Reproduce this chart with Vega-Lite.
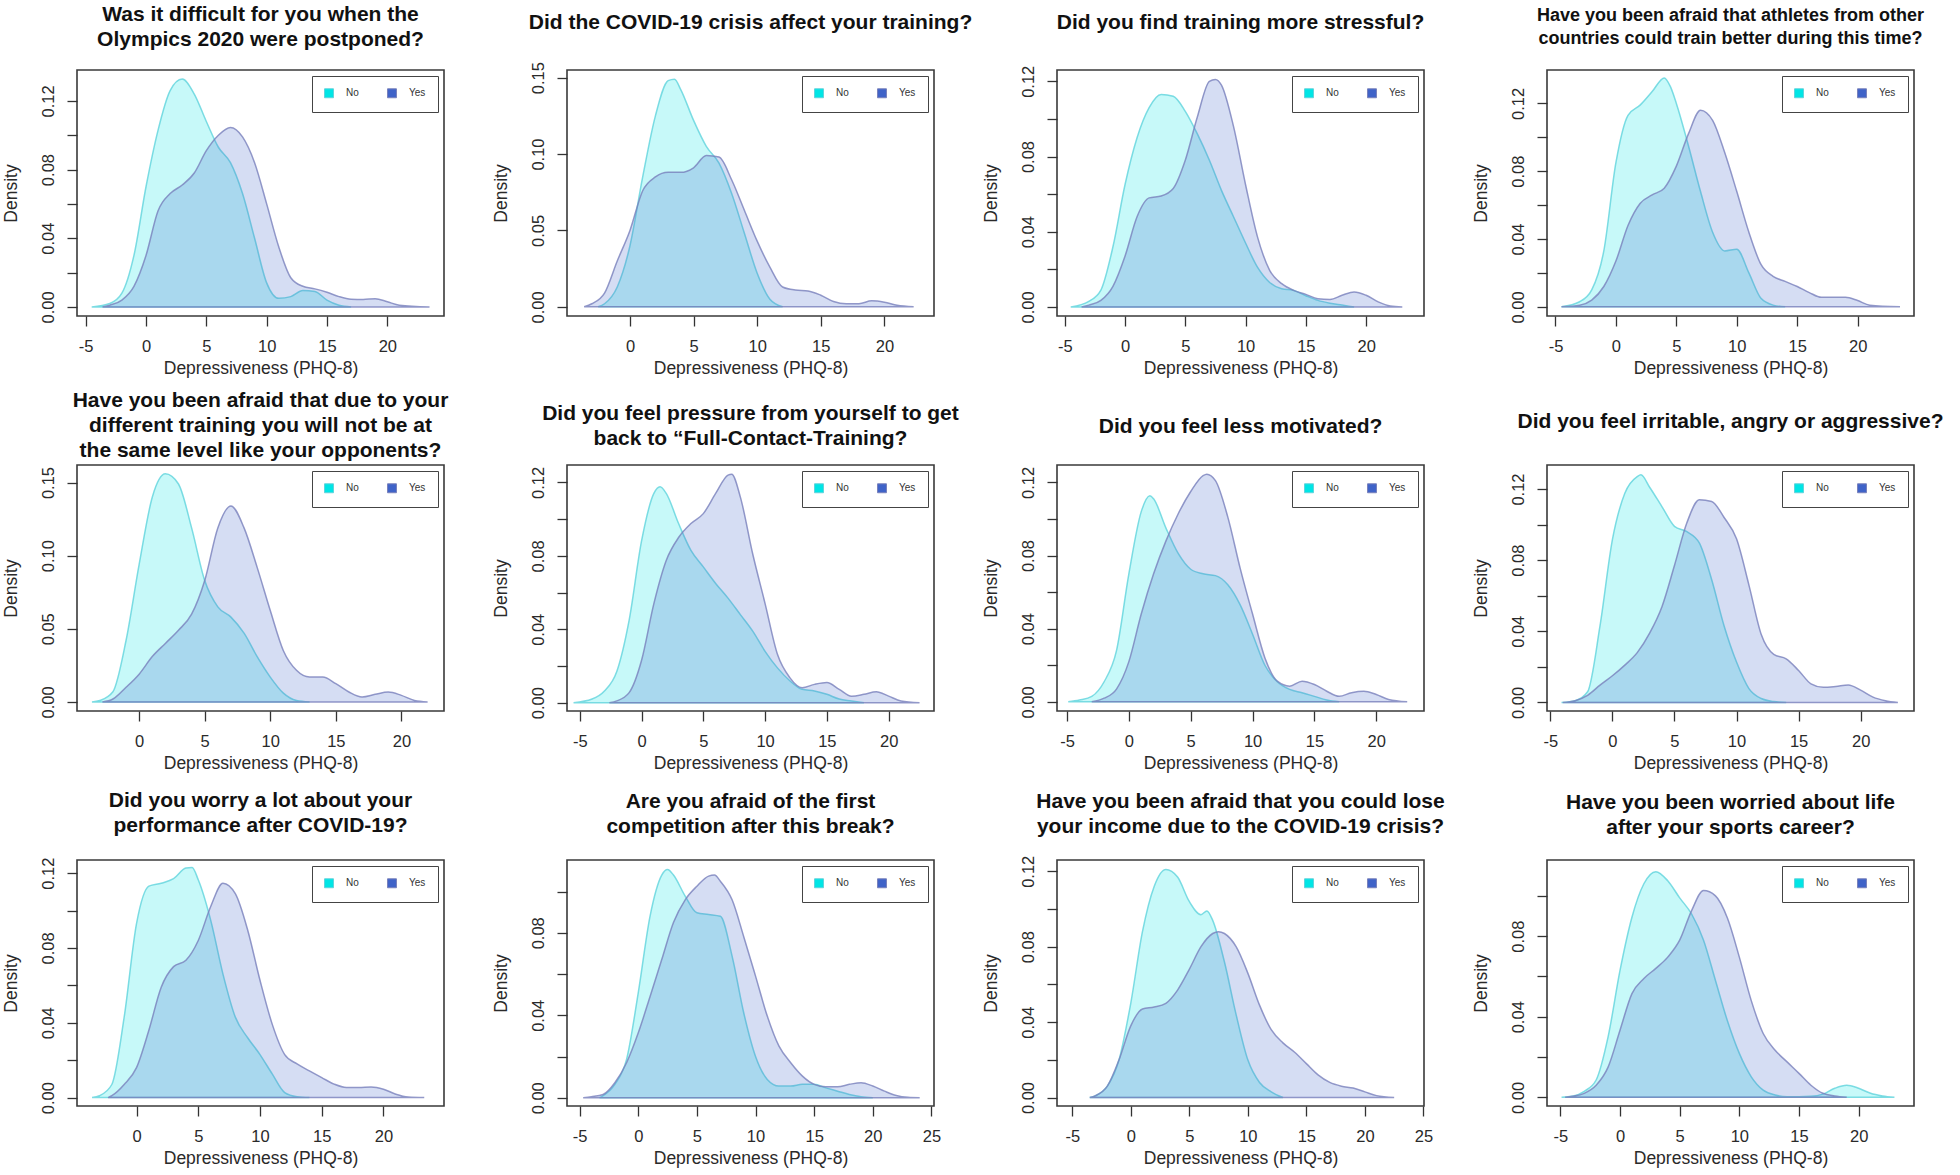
{
"$schema": "https://vega.github.io/schema/vega-lite/v6.json",
"background": "white",
"padding": {"left": 1, "top": 2, "right": 0, "bottom": 0},
"autosize": {"type": "pad"},
"data": {"values": [
{"q":1,"g":"No","x":-4.5,"d":0},{"q":1,"g":"No","x":-3,"d":0.002},{"q":1,"g":"No","x":-2,"d":0.008},{"q":1,"g":"No","x":-1,"d":0.03},{"q":1,"g":"No","x":0,"d":0.07},{"q":1,"g":"No","x":1,"d":0.103},{"q":1,"g":"No","x":2,"d":0.126},{"q":1,"g":"No","x":3,"d":0.1327},{"q":1,"g":"No","x":4,"d":0.124},{"q":1,"g":"No","x":5,"d":0.108},{"q":1,"g":"No","x":6,"d":0.093},{"q":1,"g":"No","x":7,"d":0.084},{"q":1,"g":"No","x":8,"d":0.066},{"q":1,"g":"No","x":9,"d":0.04},{"q":1,"g":"No","x":10,"d":0.014},{"q":1,"g":"No","x":11,"d":0.005},{"q":1,"g":"No","x":12,"d":0.006},{"q":1,"g":"No","x":13,"d":0.0095},{"q":1,"g":"No","x":14,"d":0.009},{"q":1,"g":"No","x":15,"d":0.004},{"q":1,"g":"No","x":16,"d":0.001},{"q":1,"g":"No","x":17,"d":0},
{"q":1,"g":"Yes","x":-3.6,"d":0},{"q":1,"g":"Yes","x":-3,"d":0.001},{"q":1,"g":"Yes","x":-2,"d":0.004},{"q":1,"g":"Yes","x":-1,"d":0.012},{"q":1,"g":"Yes","x":0,"d":0.03},{"q":1,"g":"Yes","x":1,"d":0.056},{"q":1,"g":"Yes","x":2,"d":0.066},{"q":1,"g":"Yes","x":3,"d":0.071},{"q":1,"g":"Yes","x":4,"d":0.078},{"q":1,"g":"Yes","x":5,"d":0.091},{"q":1,"g":"Yes","x":6,"d":0.1},{"q":1,"g":"Yes","x":7,"d":0.1045},{"q":1,"g":"Yes","x":8,"d":0.099},{"q":1,"g":"Yes","x":9,"d":0.084},{"q":1,"g":"Yes","x":10,"d":0.06},{"q":1,"g":"Yes","x":11,"d":0.035},{"q":1,"g":"Yes","x":12,"d":0.017},{"q":1,"g":"Yes","x":13,"d":0.012},{"q":1,"g":"Yes","x":14,"d":0.0105},{"q":1,"g":"Yes","x":15,"d":0.0085},{"q":1,"g":"Yes","x":16,"d":0.006},{"q":1,"g":"Yes","x":17,"d":0.0045},{"q":1,"g":"Yes","x":18,"d":0.0043},{"q":1,"g":"Yes","x":19,"d":0.0048},{"q":1,"g":"Yes","x":20,"d":0.003},{"q":1,"g":"Yes","x":21,"d":0.001},{"q":1,"g":"Yes","x":23.5,"d":0},
{"q":2,"g":"No","x":-2.5,"d":0},{"q":2,"g":"No","x":-2,"d":0.002},{"q":2,"g":"No","x":-1,"d":0.013},{"q":2,"g":"No","x":0,"d":0.04},{"q":2,"g":"No","x":1,"d":0.085},{"q":2,"g":"No","x":2,"d":0.125},{"q":2,"g":"No","x":3,"d":0.148},{"q":2,"g":"No","x":3.5,"d":0.149},{"q":2,"g":"No","x":4,"d":0.142},{"q":2,"g":"No","x":5,"d":0.122},{"q":2,"g":"No","x":6,"d":0.105},{"q":2,"g":"No","x":7,"d":0.094},{"q":2,"g":"No","x":8,"d":0.074},{"q":2,"g":"No","x":9,"d":0.048},{"q":2,"g":"No","x":10,"d":0.022},{"q":2,"g":"No","x":11,"d":0.005},{"q":2,"g":"No","x":12,"d":0},
{"q":2,"g":"Yes","x":-3.6,"d":0},{"q":2,"g":"Yes","x":-3,"d":0.002},{"q":2,"g":"Yes","x":-2,"d":0.009},{"q":2,"g":"Yes","x":-1,"d":0.03},{"q":2,"g":"Yes","x":0,"d":0.05},{"q":2,"g":"Yes","x":1,"d":0.076},{"q":2,"g":"Yes","x":2,"d":0.085},{"q":2,"g":"Yes","x":3,"d":0.088},{"q":2,"g":"Yes","x":4,"d":0.088},{"q":2,"g":"Yes","x":5,"d":0.091},{"q":2,"g":"Yes","x":6,"d":0.099},{"q":2,"g":"Yes","x":7,"d":0.098},{"q":2,"g":"Yes","x":8,"d":0.083},{"q":2,"g":"Yes","x":9,"d":0.063},{"q":2,"g":"Yes","x":10,"d":0.043},{"q":2,"g":"Yes","x":11,"d":0.026},{"q":2,"g":"Yes","x":12,"d":0.013},{"q":2,"g":"Yes","x":13,"d":0.011},{"q":2,"g":"Yes","x":14,"d":0.0104},{"q":2,"g":"Yes","x":15,"d":0.0076},{"q":2,"g":"Yes","x":16,"d":0.0035},{"q":2,"g":"Yes","x":17,"d":0.002},{"q":2,"g":"Yes","x":18,"d":0.002},{"q":2,"g":"Yes","x":19,"d":0.0039},{"q":2,"g":"Yes","x":20,"d":0.003},{"q":2,"g":"Yes","x":21,"d":0.001},{"q":2,"g":"Yes","x":22.3,"d":0},
{"q":3,"g":"No","x":-4.5,"d":0},{"q":3,"g":"No","x":-3,"d":0.003},{"q":3,"g":"No","x":-2,"d":0.009},{"q":3,"g":"No","x":-1,"d":0.032},{"q":3,"g":"No","x":0,"d":0.065},{"q":3,"g":"No","x":1,"d":0.09},{"q":3,"g":"No","x":2,"d":0.106},{"q":3,"g":"No","x":3,"d":0.113},{"q":3,"g":"No","x":4,"d":0.112},{"q":3,"g":"No","x":5,"d":0.104},{"q":3,"g":"No","x":6,"d":0.092},{"q":3,"g":"No","x":7,"d":0.078},{"q":3,"g":"No","x":8,"d":0.062},{"q":3,"g":"No","x":9,"d":0.048},{"q":3,"g":"No","x":10,"d":0.034},{"q":3,"g":"No","x":11,"d":0.021},{"q":3,"g":"No","x":12,"d":0.013},{"q":3,"g":"No","x":13,"d":0.0097},{"q":3,"g":"No","x":14,"d":0.0088},{"q":3,"g":"No","x":15,"d":0.006},{"q":3,"g":"No","x":16,"d":0.0035},{"q":3,"g":"No","x":17,"d":0.002},{"q":3,"g":"No","x":18,"d":0.001},{"q":3,"g":"No","x":19,"d":0},
{"q":3,"g":"Yes","x":-3.6,"d":0},{"q":3,"g":"Yes","x":-3,"d":0.001},{"q":3,"g":"Yes","x":-2,"d":0.0035},{"q":3,"g":"Yes","x":-1,"d":0.011},{"q":3,"g":"Yes","x":0,"d":0.027},{"q":3,"g":"Yes","x":1,"d":0.048},{"q":3,"g":"Yes","x":2,"d":0.058},{"q":3,"g":"Yes","x":3,"d":0.059},{"q":3,"g":"Yes","x":4,"d":0.063},{"q":3,"g":"Yes","x":5,"d":0.078},{"q":3,"g":"Yes","x":6,"d":0.101},{"q":3,"g":"Yes","x":7,"d":0.12},{"q":3,"g":"Yes","x":7.5,"d":0.121},{"q":3,"g":"Yes","x":8,"d":0.118},{"q":3,"g":"Yes","x":9,"d":0.096},{"q":3,"g":"Yes","x":10,"d":0.065},{"q":3,"g":"Yes","x":11,"d":0.037},{"q":3,"g":"Yes","x":12,"d":0.0195},{"q":3,"g":"Yes","x":13,"d":0.0124},{"q":3,"g":"Yes","x":14,"d":0.0088},{"q":3,"g":"Yes","x":15,"d":0.0067},{"q":3,"g":"Yes","x":16,"d":0.0044},{"q":3,"g":"Yes","x":17,"d":0.004},{"q":3,"g":"Yes","x":18,"d":0.0062},{"q":3,"g":"Yes","x":19,"d":0.008},{"q":3,"g":"Yes","x":20,"d":0.0062},{"q":3,"g":"Yes","x":21,"d":0.0027},{"q":3,"g":"Yes","x":22,"d":0.0005},{"q":3,"g":"Yes","x":23,"d":0},
{"q":4,"g":"No","x":-4.5,"d":0},{"q":4,"g":"No","x":-3,"d":0.003},{"q":4,"g":"No","x":-2,"d":0.01},{"q":4,"g":"No","x":-1,"d":0.033},{"q":4,"g":"No","x":0,"d":0.085},{"q":4,"g":"No","x":1,"d":0.113},{"q":4,"g":"No","x":2,"d":0.119},{"q":4,"g":"No","x":3,"d":0.127},{"q":4,"g":"No","x":4,"d":0.135},{"q":4,"g":"No","x":4.5,"d":0.13},{"q":4,"g":"No","x":5,"d":0.12},{"q":4,"g":"No","x":6,"d":0.095},{"q":4,"g":"No","x":7,"d":0.068},{"q":4,"g":"No","x":8,"d":0.044},{"q":4,"g":"No","x":9,"d":0.033},{"q":4,"g":"No","x":10,"d":0.034},{"q":4,"g":"No","x":11,"d":0.02},{"q":4,"g":"No","x":12,"d":0.005},{"q":4,"g":"No","x":13,"d":0.001},{"q":4,"g":"No","x":14,"d":0},
{"q":4,"g":"Yes","x":-4.5,"d":0},{"q":4,"g":"Yes","x":-3,"d":0.001},{"q":4,"g":"Yes","x":-2,"d":0.004},{"q":4,"g":"Yes","x":-1,"d":0.012},{"q":4,"g":"Yes","x":0,"d":0.027},{"q":4,"g":"Yes","x":1,"d":0.048},{"q":4,"g":"Yes","x":2,"d":0.061},{"q":4,"g":"Yes","x":3,"d":0.066},{"q":4,"g":"Yes","x":4,"d":0.07},{"q":4,"g":"Yes","x":5,"d":0.083},{"q":4,"g":"Yes","x":6,"d":0.102},{"q":4,"g":"Yes","x":7,"d":0.116},{"q":4,"g":"Yes","x":8,"d":0.11},{"q":4,"g":"Yes","x":9,"d":0.091},{"q":4,"g":"Yes","x":10,"d":0.068},{"q":4,"g":"Yes","x":11,"d":0.044},{"q":4,"g":"Yes","x":12,"d":0.025},{"q":4,"g":"Yes","x":13,"d":0.018},{"q":4,"g":"Yes","x":14,"d":0.015},{"q":4,"g":"Yes","x":15,"d":0.012},{"q":4,"g":"Yes","x":16,"d":0.0084},{"q":4,"g":"Yes","x":17,"d":0.0056},{"q":4,"g":"Yes","x":18,"d":0.0056},{"q":4,"g":"Yes","x":19,"d":0.0056},{"q":4,"g":"Yes","x":20,"d":0.0037},{"q":4,"g":"Yes","x":21,"d":0.001},{"q":4,"g":"Yes","x":23.5,"d":0},
{"q":5,"g":"No","x":-3.6,"d":0},{"q":5,"g":"No","x":-3,"d":0.001},{"q":5,"g":"No","x":-2,"d":0.007},{"q":5,"g":"No","x":-1,"d":0.042},{"q":5,"g":"No","x":0,"d":0.094},{"q":5,"g":"No","x":1,"d":0.14},{"q":5,"g":"No","x":2,"d":0.156},{"q":5,"g":"No","x":3,"d":0.149},{"q":5,"g":"No","x":4,"d":0.119},{"q":5,"g":"No","x":5,"d":0.083},{"q":5,"g":"No","x":6,"d":0.065},{"q":5,"g":"No","x":7,"d":0.058},{"q":5,"g":"No","x":8,"d":0.047},{"q":5,"g":"No","x":9,"d":0.031},{"q":5,"g":"No","x":10,"d":0.017},{"q":5,"g":"No","x":11,"d":0.006},{"q":5,"g":"No","x":12,"d":0.001},{"q":5,"g":"No","x":13,"d":0},
{"q":5,"g":"Yes","x":-2.8,"d":0},{"q":5,"g":"Yes","x":-2,"d":0.002},{"q":5,"g":"Yes","x":-1,"d":0.01},{"q":5,"g":"Yes","x":0,"d":0.019},{"q":5,"g":"Yes","x":1,"d":0.031},{"q":5,"g":"Yes","x":2,"d":0.04},{"q":5,"g":"Yes","x":3,"d":0.049},{"q":5,"g":"Yes","x":4,"d":0.06},{"q":5,"g":"Yes","x":5,"d":0.083},{"q":5,"g":"Yes","x":6,"d":0.119},{"q":5,"g":"Yes","x":7,"d":0.134},{"q":5,"g":"Yes","x":8,"d":0.119},{"q":5,"g":"Yes","x":9,"d":0.092},{"q":5,"g":"Yes","x":10,"d":0.0625},{"q":5,"g":"Yes","x":11,"d":0.035},{"q":5,"g":"Yes","x":12,"d":0.0216},{"q":5,"g":"Yes","x":13,"d":0.017},{"q":5,"g":"Yes","x":14,"d":0.017},{"q":5,"g":"Yes","x":15,"d":0.0125},{"q":5,"g":"Yes","x":16,"d":0.0068},{"q":5,"g":"Yes","x":17,"d":0.0034},{"q":5,"g":"Yes","x":18,"d":0.0052},{"q":5,"g":"Yes","x":19,"d":0.0068},{"q":5,"g":"Yes","x":20,"d":0.0045},{"q":5,"g":"Yes","x":21,"d":0.001},{"q":5,"g":"Yes","x":22,"d":0},
{"q":6,"g":"No","x":-5.5,"d":0},{"q":6,"g":"No","x":-4,"d":0.002},{"q":6,"g":"No","x":-3,"d":0.0064},{"q":6,"g":"No","x":-2,"d":0.017},{"q":6,"g":"No","x":-1,"d":0.045},{"q":6,"g":"No","x":0,"d":0.088},{"q":6,"g":"No","x":1,"d":0.114},{"q":6,"g":"No","x":1.5,"d":0.1176},{"q":6,"g":"No","x":2,"d":0.114},{"q":6,"g":"No","x":3,"d":0.0976},{"q":6,"g":"No","x":4,"d":0.083},{"q":6,"g":"No","x":5,"d":0.074},{"q":6,"g":"No","x":6,"d":0.065},{"q":6,"g":"No","x":7,"d":0.057},{"q":6,"g":"No","x":8,"d":0.048},{"q":6,"g":"No","x":9,"d":0.039},{"q":6,"g":"No","x":10,"d":0.028},{"q":6,"g":"No","x":11,"d":0.019},{"q":6,"g":"No","x":12,"d":0.012},{"q":6,"g":"No","x":13,"d":0.0073},{"q":6,"g":"No","x":14,"d":0.0064},{"q":6,"g":"No","x":15,"d":0.0046},{"q":6,"g":"No","x":16,"d":0.002},{"q":6,"g":"No","x":17,"d":0.001},{"q":6,"g":"No","x":18,"d":0},
{"q":6,"g":"Yes","x":-2.6,"d":0},{"q":6,"g":"Yes","x":-2,"d":0.001},{"q":6,"g":"Yes","x":-1,"d":0.0055},{"q":6,"g":"Yes","x":0,"d":0.023},{"q":6,"g":"Yes","x":1,"d":0.054},{"q":6,"g":"Yes","x":2,"d":0.0775},{"q":6,"g":"Yes","x":3,"d":0.09},{"q":6,"g":"Yes","x":4,"d":0.0976},{"q":6,"g":"Yes","x":5,"d":0.103},{"q":6,"g":"Yes","x":6,"d":0.114},{"q":6,"g":"Yes","x":7,"d":0.124},{"q":6,"g":"Yes","x":7.3,"d":0.1245},{"q":6,"g":"Yes","x":8,"d":0.112},{"q":6,"g":"Yes","x":9,"d":0.081},{"q":6,"g":"Yes","x":10,"d":0.054},{"q":6,"g":"Yes","x":11,"d":0.0264},{"q":6,"g":"Yes","x":12,"d":0.0137},{"q":6,"g":"Yes","x":13,"d":0.0082},{"q":6,"g":"Yes","x":14,"d":0.01},{"q":6,"g":"Yes","x":15,"d":0.011},{"q":6,"g":"Yes","x":16,"d":0.0073},{"q":6,"g":"Yes","x":17,"d":0.0036},{"q":6,"g":"Yes","x":18,"d":0.0046},{"q":6,"g":"Yes","x":19,"d":0.006},{"q":6,"g":"Yes","x":20,"d":0.0036},{"q":6,"g":"Yes","x":21,"d":0.001},{"q":6,"g":"Yes","x":22.5,"d":0},
{"q":7,"g":"No","x":-4.9,"d":0},{"q":7,"g":"No","x":-4,"d":0.001},{"q":7,"g":"No","x":-3,"d":0.003},{"q":7,"g":"No","x":-2,"d":0.011},{"q":7,"g":"No","x":-1,"d":0.028},{"q":7,"g":"No","x":0,"d":0.07},{"q":7,"g":"No","x":1,"d":0.104},{"q":7,"g":"No","x":1.7,"d":0.1127},{"q":7,"g":"No","x":2,"d":0.111},{"q":7,"g":"No","x":3,"d":0.095},{"q":7,"g":"No","x":4,"d":0.081},{"q":7,"g":"No","x":5,"d":0.0725},{"q":7,"g":"No","x":6,"d":0.07},{"q":7,"g":"No","x":7,"d":0.069},{"q":7,"g":"No","x":8,"d":0.064},{"q":7,"g":"No","x":9,"d":0.053},{"q":7,"g":"No","x":10,"d":0.037},{"q":7,"g":"No","x":11,"d":0.02},{"q":7,"g":"No","x":12,"d":0.011},{"q":7,"g":"No","x":13,"d":0.0068},{"q":7,"g":"No","x":14,"d":0.005},{"q":7,"g":"No","x":15,"d":0.003},{"q":7,"g":"No","x":16,"d":0.001},{"q":7,"g":"No","x":17,"d":0},
{"q":7,"g":"Yes","x":-3,"d":0},{"q":7,"g":"Yes","x":-2,"d":0.002},{"q":7,"g":"Yes","x":-1,"d":0.007},{"q":7,"g":"Yes","x":0,"d":0.022},{"q":7,"g":"Yes","x":1,"d":0.048},{"q":7,"g":"Yes","x":2,"d":0.07},{"q":7,"g":"Yes","x":3,"d":0.088},{"q":7,"g":"Yes","x":4,"d":0.103},{"q":7,"g":"Yes","x":5,"d":0.115},{"q":7,"g":"Yes","x":6,"d":0.1237},{"q":7,"g":"Yes","x":6.3,"d":0.1245},{"q":7,"g":"Yes","x":7,"d":0.121},{"q":7,"g":"Yes","x":8,"d":0.101},{"q":7,"g":"Yes","x":9,"d":0.073},{"q":7,"g":"Yes","x":10,"d":0.048},{"q":7,"g":"Yes","x":11,"d":0.024},{"q":7,"g":"Yes","x":12,"d":0.0113},{"q":7,"g":"Yes","x":13,"d":0.0086},{"q":7,"g":"Yes","x":14,"d":0.0113},{"q":7,"g":"Yes","x":15,"d":0.0095},{"q":7,"g":"Yes","x":16,"d":0.0058},{"q":7,"g":"Yes","x":17,"d":0.003},{"q":7,"g":"Yes","x":18,"d":0.005},{"q":7,"g":"Yes","x":19,"d":0.0058},{"q":7,"g":"Yes","x":20,"d":0.004},{"q":7,"g":"Yes","x":21,"d":0.0013},{"q":7,"g":"Yes","x":22.5,"d":0},
{"q":8,"g":"No","x":-4.1,"d":0},{"q":8,"g":"No","x":-3,"d":0.001},{"q":8,"g":"No","x":-2,"d":0.006},{"q":8,"g":"No","x":-1,"d":0.043},{"q":8,"g":"No","x":0,"d":0.0915},{"q":8,"g":"No","x":1,"d":0.1176},{"q":8,"g":"No","x":2,"d":0.127},{"q":8,"g":"No","x":2.3,"d":0.128},{"q":8,"g":"No","x":3,"d":0.121},{"q":8,"g":"No","x":4,"d":0.11},{"q":8,"g":"No","x":5,"d":0.099},{"q":8,"g":"No","x":6,"d":0.096},{"q":8,"g":"No","x":7,"d":0.0897},{"q":8,"g":"No","x":8,"d":0.069},{"q":8,"g":"No","x":9,"d":0.043},{"q":8,"g":"No","x":10,"d":0.0227},{"q":8,"g":"No","x":11,"d":0.0078},{"q":8,"g":"No","x":12,"d":0.0022},{"q":8,"g":"No","x":13,"d":0.0005},{"q":8,"g":"No","x":14,"d":0},
{"q":8,"g":"Yes","x":-4,"d":0},{"q":8,"g":"Yes","x":-3,"d":0.001},{"q":8,"g":"Yes","x":-2,"d":0.004},{"q":8,"g":"Yes","x":-1,"d":0.0097},{"q":8,"g":"Yes","x":0,"d":0.015},{"q":8,"g":"Yes","x":1,"d":0.021},{"q":8,"g":"Yes","x":2,"d":0.028},{"q":8,"g":"Yes","x":3,"d":0.039},{"q":8,"g":"Yes","x":4,"d":0.054},{"q":8,"g":"Yes","x":5,"d":0.077},{"q":8,"g":"Yes","x":6,"d":0.101},{"q":8,"g":"Yes","x":7,"d":0.114},{"q":8,"g":"Yes","x":8,"d":0.113},{"q":8,"g":"Yes","x":9,"d":0.104},{"q":8,"g":"Yes","x":10,"d":0.092},{"q":8,"g":"Yes","x":11,"d":0.066},{"q":8,"g":"Yes","x":12,"d":0.038},{"q":8,"g":"Yes","x":13,"d":0.027},{"q":8,"g":"Yes","x":14,"d":0.0245},{"q":8,"g":"Yes","x":15,"d":0.018},{"q":8,"g":"Yes","x":16,"d":0.0105},{"q":8,"g":"Yes","x":17,"d":0.0085},{"q":8,"g":"Yes","x":18,"d":0.009},{"q":8,"g":"Yes","x":19,"d":0.0098},{"q":8,"g":"Yes","x":20,"d":0.0069},{"q":8,"g":"Yes","x":21,"d":0.003},{"q":8,"g":"Yes","x":22,"d":0.001},{"q":8,"g":"Yes","x":23,"d":0},
{"q":9,"g":"No","x":-3.6,"d":0},{"q":9,"g":"No","x":-3,"d":0.001},{"q":9,"g":"No","x":-2,"d":0.007},{"q":9,"g":"No","x":-1,"d":0.043},{"q":9,"g":"No","x":0,"d":0.093},{"q":9,"g":"No","x":1,"d":0.113},{"q":9,"g":"No","x":2,"d":0.1146},{"q":9,"g":"No","x":3,"d":0.117},{"q":9,"g":"No","x":4,"d":0.1227},{"q":9,"g":"No","x":4.5,"d":0.123},{"q":9,"g":"No","x":5,"d":0.1164},{"q":9,"g":"No","x":6,"d":0.095},{"q":9,"g":"No","x":7,"d":0.066},{"q":9,"g":"No","x":8,"d":0.043},{"q":9,"g":"No","x":9,"d":0.032},{"q":9,"g":"No","x":10,"d":0.023},{"q":9,"g":"No","x":11,"d":0.0125},{"q":9,"g":"No","x":12,"d":0.0027},{"q":9,"g":"No","x":13,"d":0.0005},{"q":9,"g":"No","x":14,"d":0},
{"q":9,"g":"Yes","x":-2.3,"d":0},{"q":9,"g":"Yes","x":-2,"d":0.001},{"q":9,"g":"Yes","x":-1,"d":0.007},{"q":9,"g":"Yes","x":0,"d":0.016},{"q":9,"g":"Yes","x":1,"d":0.036},{"q":9,"g":"Yes","x":2,"d":0.059},{"q":9,"g":"Yes","x":3,"d":0.07},{"q":9,"g":"Yes","x":4,"d":0.0734},{"q":9,"g":"Yes","x":5,"d":0.084},{"q":9,"g":"Yes","x":6,"d":0.102},{"q":9,"g":"Yes","x":7,"d":0.1146},{"q":9,"g":"Yes","x":8,"d":0.109},{"q":9,"g":"Yes","x":9,"d":0.0896},{"q":9,"g":"Yes","x":10,"d":0.0627},{"q":9,"g":"Yes","x":11,"d":0.039},{"q":9,"g":"Yes","x":12,"d":0.023},{"q":9,"g":"Yes","x":13,"d":0.018},{"q":9,"g":"Yes","x":14,"d":0.0143},{"q":9,"g":"Yes","x":15,"d":0.0107},{"q":9,"g":"Yes","x":16,"d":0.0072},{"q":9,"g":"Yes","x":17,"d":0.0054},{"q":9,"g":"Yes","x":18,"d":0.0054},{"q":9,"g":"Yes","x":19,"d":0.0057},{"q":9,"g":"Yes","x":20,"d":0.0045},{"q":9,"g":"Yes","x":21,"d":0.0018},{"q":9,"g":"Yes","x":22,"d":0.0003},{"q":9,"g":"Yes","x":23.3,"d":0},
{"q":10,"g":"No","x":-3.3,"d":0},{"q":10,"g":"No","x":-3,"d":0.001},{"q":10,"g":"No","x":-2,"d":0.0065},{"q":10,"g":"No","x":-1,"d":0.0186},{"q":10,"g":"No","x":0,"d":0.051},{"q":10,"g":"No","x":1,"d":0.088},{"q":10,"g":"No","x":2,"d":0.108},{"q":10,"g":"No","x":2.5,"d":0.1107},{"q":10,"g":"No","x":3,"d":0.108},{"q":10,"g":"No","x":4,"d":0.0978},{"q":10,"g":"No","x":5,"d":0.0897},{"q":10,"g":"No","x":6,"d":0.0889},{"q":10,"g":"No","x":7,"d":0.088},{"q":10,"g":"No","x":8,"d":0.0687},{"q":10,"g":"No","x":9,"d":0.041},{"q":10,"g":"No","x":10,"d":0.02},{"q":10,"g":"No","x":11,"d":0.0089},{"q":10,"g":"No","x":12,"d":0.0057},{"q":10,"g":"No","x":13,"d":0.0057},{"q":10,"g":"No","x":14,"d":0.0065},{"q":10,"g":"No","x":15,"d":0.0065},{"q":10,"g":"No","x":16,"d":0.0048},{"q":10,"g":"No","x":17,"d":0.0032},{"q":10,"g":"No","x":18,"d":0.0016},{"q":10,"g":"No","x":19,"d":0.0005},{"q":10,"g":"No","x":20,"d":0},
{"q":10,"g":"Yes","x":-4.7,"d":0},{"q":10,"g":"Yes","x":-4,"d":0.0005},{"q":10,"g":"Yes","x":-3,"d":0.0016},{"q":10,"g":"Yes","x":-2,"d":0.0073},{"q":10,"g":"Yes","x":-1,"d":0.017},{"q":10,"g":"Yes","x":0,"d":0.0315},{"q":10,"g":"Yes","x":1,"d":0.049},{"q":10,"g":"Yes","x":2,"d":0.067},{"q":10,"g":"Yes","x":3,"d":0.085},{"q":10,"g":"Yes","x":4,"d":0.096},{"q":10,"g":"Yes","x":5,"d":0.1026},{"q":10,"g":"Yes","x":6,"d":0.1075},{"q":10,"g":"Yes","x":6.5,"d":0.108},{"q":10,"g":"Yes","x":7,"d":0.105},{"q":10,"g":"Yes","x":8,"d":0.096},{"q":10,"g":"Yes","x":9,"d":0.078},{"q":10,"g":"Yes","x":10,"d":0.059},{"q":10,"g":"Yes","x":11,"d":0.0396},{"q":10,"g":"Yes","x":12,"d":0.025},{"q":10,"g":"Yes","x":13,"d":0.017},{"q":10,"g":"Yes","x":14,"d":0.0105},{"q":10,"g":"Yes","x":15,"d":0.0065},{"q":10,"g":"Yes","x":16,"d":0.0053},{"q":10,"g":"Yes","x":17,"d":0.0053},{"q":10,"g":"Yes","x":18,"d":0.0065},{"q":10,"g":"Yes","x":19,"d":0.0073},{"q":10,"g":"Yes","x":20,"d":0.0057},{"q":10,"g":"Yes","x":21,"d":0.0032},{"q":10,"g":"Yes","x":22,"d":0.0011},{"q":10,"g":"Yes","x":23,"d":0.0002},{"q":10,"g":"Yes","x":24,"d":0},
{"q":11,"g":"No","x":-3.5,"d":0},{"q":11,"g":"No","x":-3,"d":0.001},{"q":11,"g":"No","x":-2,"d":0.006},{"q":11,"g":"No","x":-1,"d":0.02},{"q":11,"g":"No","x":0,"d":0.05},{"q":11,"g":"No","x":1,"d":0.088},{"q":11,"g":"No","x":2,"d":0.112},{"q":11,"g":"No","x":3,"d":0.121},{"q":11,"g":"No","x":4,"d":0.117},{"q":11,"g":"No","x":5,"d":0.104},{"q":11,"g":"No","x":6,"d":0.097},{"q":11,"g":"No","x":6.5,"d":0.099},{"q":11,"g":"No","x":7,"d":0.094},{"q":11,"g":"No","x":8,"d":0.072},{"q":11,"g":"No","x":9,"d":0.044},{"q":11,"g":"No","x":10,"d":0.02},{"q":11,"g":"No","x":11,"d":0.008},{"q":11,"g":"No","x":12,"d":0.003},{"q":11,"g":"No","x":13,"d":0},
{"q":11,"g":"Yes","x":-3.5,"d":0},{"q":11,"g":"Yes","x":-3,"d":0.001},{"q":11,"g":"Yes","x":-2,"d":0.006},{"q":11,"g":"Yes","x":-1,"d":0.02},{"q":11,"g":"Yes","x":0,"d":0.038},{"q":11,"g":"Yes","x":1,"d":0.047},{"q":11,"g":"Yes","x":2,"d":0.048},{"q":11,"g":"Yes","x":3,"d":0.05},{"q":11,"g":"Yes","x":4,"d":0.057},{"q":11,"g":"Yes","x":5,"d":0.068},{"q":11,"g":"Yes","x":6,"d":0.08},{"q":11,"g":"Yes","x":7,"d":0.087},{"q":11,"g":"Yes","x":7.5,"d":0.088},{"q":11,"g":"Yes","x":8,"d":0.087},{"q":11,"g":"Yes","x":9,"d":0.08},{"q":11,"g":"Yes","x":10,"d":0.066},{"q":11,"g":"Yes","x":11,"d":0.049},{"q":11,"g":"Yes","x":12,"d":0.036},{"q":11,"g":"Yes","x":13,"d":0.029},{"q":11,"g":"Yes","x":14,"d":0.024},{"q":11,"g":"Yes","x":15,"d":0.018},{"q":11,"g":"Yes","x":16,"d":0.012},{"q":11,"g":"Yes","x":17,"d":0.008},{"q":11,"g":"Yes","x":18,"d":0.006},{"q":11,"g":"Yes","x":19,"d":0.005},{"q":11,"g":"Yes","x":20,"d":0.003},{"q":11,"g":"Yes","x":21,"d":0.001},{"q":11,"g":"Yes","x":22.5,"d":0},
{"q":12,"g":"No","x":-4.9,"d":0},{"q":12,"g":"No","x":-4,"d":0.0005},{"q":12,"g":"No","x":-3,"d":0.003},{"q":12,"g":"No","x":-2,"d":0.0086},{"q":12,"g":"No","x":-1,"d":0.03},{"q":12,"g":"No","x":0,"d":0.063},{"q":12,"g":"No","x":1,"d":0.0894},{"q":12,"g":"No","x":2,"d":0.106},{"q":12,"g":"No","x":3,"d":0.112},{"q":12,"g":"No","x":4,"d":0.1075},{"q":12,"g":"No","x":5,"d":0.099},{"q":12,"g":"No","x":6,"d":0.091},{"q":12,"g":"No","x":7,"d":0.078},{"q":12,"g":"No","x":8,"d":0.058},{"q":12,"g":"No","x":9,"d":0.038},{"q":12,"g":"No","x":10,"d":0.0218},{"q":12,"g":"No","x":11,"d":0.0102},{"q":12,"g":"No","x":12,"d":0.0036},{"q":12,"g":"No","x":13,"d":0.0012},{"q":12,"g":"No","x":14,"d":0.0003},{"q":12,"g":"No","x":15,"d":0.0003},{"q":12,"g":"No","x":16,"d":0.0005},{"q":12,"g":"No","x":17,"d":0.0016},{"q":12,"g":"No","x":18,"d":0.0045},{"q":12,"g":"No","x":19,"d":0.006},{"q":12,"g":"No","x":20,"d":0.0045},{"q":12,"g":"No","x":21,"d":0.002},{"q":12,"g":"No","x":22,"d":0.0007},{"q":12,"g":"No","x":23,"d":0},
{"q":12,"g":"Yes","x":-4.6,"d":0},{"q":12,"g":"Yes","x":-4,"d":0.0005},{"q":12,"g":"Yes","x":-3,"d":0.002},{"q":12,"g":"Yes","x":-2,"d":0.006},{"q":12,"g":"Yes","x":-1,"d":0.015},{"q":12,"g":"Yes","x":0,"d":0.0333},{"q":12,"g":"Yes","x":1,"d":0.0515},{"q":12,"g":"Yes","x":2,"d":0.059},{"q":12,"g":"Yes","x":3,"d":0.064},{"q":12,"g":"Yes","x":4,"d":0.0696},{"q":12,"g":"Yes","x":5,"d":0.078},{"q":12,"g":"Yes","x":6,"d":0.0927},{"q":12,"g":"Yes","x":7,"d":0.1026},{"q":12,"g":"Yes","x":8,"d":0.1},{"q":12,"g":"Yes","x":9,"d":0.089},{"q":12,"g":"Yes","x":10,"d":0.0696},{"q":12,"g":"Yes","x":11,"d":0.048},{"q":12,"g":"Yes","x":12,"d":0.0317},{"q":12,"g":"Yes","x":13,"d":0.0234},{"q":12,"g":"Yes","x":14,"d":0.0176},{"q":12,"g":"Yes","x":15,"d":0.0119},{"q":12,"g":"Yes","x":16,"d":0.006},{"q":12,"g":"Yes","x":17,"d":0.002},{"q":12,"g":"Yes","x":18,"d":0.0007},{"q":12,"g":"Yes","x":19,"d":0}
]},
"columns": 4,
"spacing": {"row": 149, "column": 123},
"bounds": "flush",
"resolve": {"scale": {"x": "independent", "y": "independent", "fill": "independent", "stroke": "independent"}, "legend": {"fill": "independent", "stroke": "independent"}},
"concat": [
{"title": {"text": ["Was it difficult for you when the", "Olympics 2020 were postponed?"], "offset": 20.5},
 "width": 367, "height": 246, "transform": [{"filter": "datum.q == 1"}],
 "mark": {"type": "area", "interpolate": "monotone", "fillOpacity": 0.22, "strokeWidth": 1.5, "strokeOpacity": 0.8},
 "encoding": {
  "x": {"field": "x", "type": "quantitative", "scale": {"domain": [-5.72, 24.7], "nice": false, "zero": false}, "axis": {"values": [-5, 0, 5, 10, 15, 20], "labelExpr": "'' + datum.value", "title": "Depressiveness (PHQ-8)"}},
  "y": {"field": "d", "type": "quantitative", "stack": null, "scale": {"domain": [-0.0053, 0.138], "nice": false, "zero": false}, "axis": {"values": [0, 0.02, 0.04, 0.06, 0.08, 0.1, 0.12], "labelExpr": "abs(datum.value*25 - round(datum.value*25)) < 0.01 ? format(datum.value, '.2f') : ''", "title": "Density"}},
  "y2": {"datum": 0},
  "fill": {"field": "g", "type": "nominal", "scale": {"domain": ["No", "Yes"], "range": ["#00e5e5", "#3f63c8"]}, "legend": {"title": null, "encode": {"symbols": {"update": {"fillOpacity": {"value": 1}, "opacity": {"value": 1}, "stroke": {"value": "#333333"}, "strokeWidth": {"value": 1}}}}}},
  "stroke": {"field": "g", "type": "nominal", "scale": {"domain": ["No", "Yes"], "range": ["#5fd3dc", "#7880bb"]}, "legend": null}
 }},
{"title": {"text": "Did the COVID-19 crisis affect your training?", "offset": 29},
 "width": 367, "height": 246, "transform": [{"filter": "datum.q == 2"}],
 "mark": {"type": "area", "interpolate": "monotone", "fillOpacity": 0.22, "strokeWidth": 1.5, "strokeOpacity": 0.8},
 "encoding": {
  "x": {"field": "x", "type": "quantitative", "scale": {"domain": [-4.95, 23.9], "nice": false, "zero": false}, "axis": {"values": [0, 5, 10, 15, 20], "labelExpr": "'' + datum.value", "title": "Depressiveness (PHQ-8)"}},
  "y": {"field": "d", "type": "quantitative", "stack": null, "scale": {"domain": [-0.006, 0.155], "nice": false, "zero": false}, "axis": {"values": [0, 0.05, 0.1, 0.15], "format": ".2f", "title": "Density"}},
  "y2": {"datum": 0},
  "fill": {"field": "g", "type": "nominal", "scale": {"domain": ["No", "Yes"], "range": ["#00e5e5", "#3f63c8"]}, "legend": {"title": null, "encode": {"symbols": {"update": {"fillOpacity": {"value": 1}, "opacity": {"value": 1}, "stroke": {"value": "#333333"}, "strokeWidth": {"value": 1}}}}}},
  "stroke": {"field": "g", "type": "nominal", "scale": {"domain": ["No", "Yes"], "range": ["#5fd3dc", "#7880bb"]}, "legend": null}
 }},
{"title": {"text": "Did you find training more stressful?", "offset": 32},
 "width": 367, "height": 246, "transform": [{"filter": "datum.q == 3"}],
 "mark": {"type": "area", "interpolate": "monotone", "fillOpacity": 0.22, "strokeWidth": 1.5, "strokeOpacity": 0.8},
 "encoding": {
  "x": {"field": "x", "type": "quantitative", "scale": {"domain": [-5.64, 24.8], "nice": false, "zero": false}, "axis": {"values": [-5, 0, 5, 10, 15, 20], "labelExpr": "'' + datum.value", "title": "Depressiveness (PHQ-8)"}},
  "y": {"field": "d", "type": "quantitative", "stack": null, "scale": {"domain": [-0.0048, 0.126], "nice": false, "zero": false}, "axis": {"values": [0, 0.02, 0.04, 0.06, 0.08, 0.1, 0.12], "labelExpr": "abs(datum.value*25 - round(datum.value*25)) < 0.01 ? format(datum.value, '.2f') : ''", "title": "Density"}},
  "y2": {"datum": 0},
  "fill": {"field": "g", "type": "nominal", "scale": {"domain": ["No", "Yes"], "range": ["#00e5e5", "#3f63c8"]}, "legend": {"title": null, "encode": {"symbols": {"update": {"fillOpacity": {"value": 1}, "opacity": {"value": 1}, "stroke": {"value": "#333333"}, "strokeWidth": {"value": 1}}}}}},
  "stroke": {"field": "g", "type": "nominal", "scale": {"domain": ["No", "Yes"], "range": ["#5fd3dc", "#7880bb"]}, "legend": null}
 }},
{"title": {"text": ["Have you been afraid that athletes from other", "countries could train better during this time?"], "offset": 22.5, "fontSize": 18, "lineHeight": 23},
 "width": 367, "height": 246, "transform": [{"filter": "datum.q == 4"}],
 "mark": {"type": "area", "interpolate": "monotone", "fillOpacity": 0.22, "strokeWidth": 1.5, "strokeOpacity": 0.8},
 "encoding": {
  "x": {"field": "x", "type": "quantitative", "scale": {"domain": [-5.7, 24.66], "nice": false, "zero": false}, "axis": {"values": [-5, 0, 5, 10, 15, 20], "labelExpr": "'' + datum.value", "title": "Depressiveness (PHQ-8)"}},
  "y": {"field": "d", "type": "quantitative", "stack": null, "scale": {"domain": [-0.0054, 0.1397], "nice": false, "zero": false}, "axis": {"values": [0, 0.02, 0.04, 0.06, 0.08, 0.1, 0.12], "labelExpr": "abs(datum.value*25 - round(datum.value*25)) < 0.01 ? format(datum.value, '.2f') : ''", "title": "Density"}},
  "y2": {"datum": 0},
  "fill": {"field": "g", "type": "nominal", "scale": {"domain": ["No", "Yes"], "range": ["#00e5e5", "#3f63c8"]}, "legend": {"title": null, "encode": {"symbols": {"update": {"fillOpacity": {"value": 1}, "opacity": {"value": 1}, "stroke": {"value": "#333333"}, "strokeWidth": {"value": 1}}}}}},
  "stroke": {"field": "g", "type": "nominal", "scale": {"domain": ["No", "Yes"], "range": ["#5fd3dc", "#7880bb"]}, "legend": null}
 }},
{"title": {"text": ["Have you been afraid that due to your", "different training you will not be at", "the same level like your opponents?"], "offset": 4.5},
 "width": 367, "height": 246, "transform": [{"filter": "datum.q == 5"}],
 "mark": {"type": "area", "interpolate": "monotone", "fillOpacity": 0.22, "strokeWidth": 1.5, "strokeOpacity": 0.8},
 "encoding": {
  "x": {"field": "x", "type": "quantitative", "scale": {"domain": [-4.74, 23.25], "nice": false, "zero": false}, "axis": {"values": [0, 5, 10, 15, 20], "labelExpr": "'' + datum.value", "title": "Depressiveness (PHQ-8)"}},
  "y": {"field": "d", "type": "quantitative", "stack": null, "scale": {"domain": [-0.0062, 0.162], "nice": false, "zero": false}, "axis": {"values": [0, 0.05, 0.1, 0.15], "format": ".2f", "title": "Density"}},
  "y2": {"datum": 0},
  "fill": {"field": "g", "type": "nominal", "scale": {"domain": ["No", "Yes"], "range": ["#00e5e5", "#3f63c8"]}, "legend": {"title": null, "encode": {"symbols": {"update": {"fillOpacity": {"value": 1}, "opacity": {"value": 1}, "stroke": {"value": "#333333"}, "strokeWidth": {"value": 1}}}}}},
  "stroke": {"field": "g", "type": "nominal", "scale": {"domain": ["No", "Yes"], "range": ["#5fd3dc", "#7880bb"]}, "legend": null}
 }},
{"title": {"text": ["Did you feel pressure from yourself to get", "back to “Full-Contact-Training?"], "offset": 16.5},
 "width": 367, "height": 246, "transform": [{"filter": "datum.q == 6"}],
 "mark": {"type": "area", "interpolate": "monotone", "fillOpacity": 0.22, "strokeWidth": 1.5, "strokeOpacity": 0.8},
 "encoding": {
  "x": {"field": "x", "type": "quantitative", "scale": {"domain": [-6.03, 23.67], "nice": false, "zero": false}, "axis": {"values": [-5, 0, 5, 10, 15, 20], "labelExpr": "'' + datum.value", "title": "Depressiveness (PHQ-8)"}},
  "y": {"field": "d", "type": "quantitative", "stack": null, "scale": {"domain": [-0.0045, 0.1295], "nice": false, "zero": false}, "axis": {"values": [0, 0.02, 0.04, 0.06, 0.08, 0.1, 0.12], "labelExpr": "abs(datum.value*25 - round(datum.value*25)) < 0.01 ? format(datum.value, '.2f') : ''", "title": "Density"}},
  "y2": {"datum": 0},
  "fill": {"field": "g", "type": "nominal", "scale": {"domain": ["No", "Yes"], "range": ["#00e5e5", "#3f63c8"]}, "legend": {"title": null, "encode": {"symbols": {"update": {"fillOpacity": {"value": 1}, "opacity": {"value": 1}, "stroke": {"value": "#333333"}, "strokeWidth": {"value": 1}}}}}},
  "stroke": {"field": "g", "type": "nominal", "scale": {"domain": ["No", "Yes"], "range": ["#5fd3dc", "#7880bb"]}, "legend": null}
 }},
{"title": {"text": "Did you feel less motivated?", "offset": 28.5},
 "width": 367, "height": 246, "transform": [{"filter": "datum.q == 7"}],
 "mark": {"type": "area", "interpolate": "monotone", "fillOpacity": 0.22, "strokeWidth": 1.5, "strokeOpacity": 0.8},
 "encoding": {
  "x": {"field": "x", "type": "quantitative", "scale": {"domain": [-5.81, 23.86], "nice": false, "zero": false}, "axis": {"values": [-5, 0, 5, 10, 15, 20], "labelExpr": "'' + datum.value", "title": "Depressiveness (PHQ-8)"}},
  "y": {"field": "d", "type": "quantitative", "stack": null, "scale": {"domain": [-0.005, 0.1295], "nice": false, "zero": false}, "axis": {"values": [0, 0.02, 0.04, 0.06, 0.08, 0.1, 0.12], "labelExpr": "abs(datum.value*25 - round(datum.value*25)) < 0.01 ? format(datum.value, '.2f') : ''", "title": "Density"}},
  "y2": {"datum": 0},
  "fill": {"field": "g", "type": "nominal", "scale": {"domain": ["No", "Yes"], "range": ["#00e5e5", "#3f63c8"]}, "legend": {"title": null, "encode": {"symbols": {"update": {"fillOpacity": {"value": 1}, "opacity": {"value": 1}, "stroke": {"value": "#333333"}, "strokeWidth": {"value": 1}}}}}},
  "stroke": {"field": "g", "type": "nominal", "scale": {"domain": ["No", "Yes"], "range": ["#5fd3dc", "#7880bb"]}, "legend": null}
 }},
{"title": {"text": "Did you feel irritable, angry or aggressive?", "offset": 33},
 "width": 367, "height": 246, "transform": [{"filter": "datum.q == 8"}],
 "mark": {"type": "area", "interpolate": "monotone", "fillOpacity": 0.22, "strokeWidth": 1.5, "strokeOpacity": 0.8},
 "encoding": {
  "x": {"field": "x", "type": "quantitative", "scale": {"domain": [-5.27, 24.3], "nice": false, "zero": false}, "axis": {"values": [-5, 0, 5, 10, 15, 20], "labelExpr": "'' + datum.value", "title": "Depressiveness (PHQ-8)"}},
  "y": {"field": "d", "type": "quantitative", "stack": null, "scale": {"domain": [-0.0048, 0.1335], "nice": false, "zero": false}, "axis": {"values": [0, 0.02, 0.04, 0.06, 0.08, 0.1, 0.12], "labelExpr": "abs(datum.value*25 - round(datum.value*25)) < 0.01 ? format(datum.value, '.2f') : ''", "title": "Density"}},
  "y2": {"datum": 0},
  "fill": {"field": "g", "type": "nominal", "scale": {"domain": ["No", "Yes"], "range": ["#00e5e5", "#3f63c8"]}, "legend": {"title": null, "encode": {"symbols": {"update": {"fillOpacity": {"value": 1}, "opacity": {"value": 1}, "stroke": {"value": "#333333"}, "strokeWidth": {"value": 1}}}}}},
  "stroke": {"field": "g", "type": "nominal", "scale": {"domain": ["No", "Yes"], "range": ["#5fd3dc", "#7880bb"]}, "legend": null}
 }},
{"title": {"text": ["Did you worry a lot about your", "performance after COVID-19?"], "offset": 21.5},
 "width": 367, "height": 246, "transform": [{"filter": "datum.q == 9"}],
 "mark": {"type": "area", "interpolate": "monotone", "fillOpacity": 0.22, "strokeWidth": 1.5, "strokeOpacity": 0.8},
 "encoding": {
  "x": {"field": "x", "type": "quantitative", "scale": {"domain": [-4.82, 24.9], "nice": false, "zero": false}, "axis": {"values": [0, 5, 10, 15, 20], "labelExpr": "'' + datum.value", "title": "Depressiveness (PHQ-8)"}},
  "y": {"field": "d", "type": "quantitative", "stack": null, "scale": {"domain": [-0.0045, 0.127], "nice": false, "zero": false}, "axis": {"values": [0, 0.02, 0.04, 0.06, 0.08, 0.1, 0.12], "labelExpr": "abs(datum.value*25 - round(datum.value*25)) < 0.01 ? format(datum.value, '.2f') : ''", "title": "Density"}},
  "y2": {"datum": 0},
  "fill": {"field": "g", "type": "nominal", "scale": {"domain": ["No", "Yes"], "range": ["#00e5e5", "#3f63c8"]}, "legend": {"title": null, "encode": {"symbols": {"update": {"fillOpacity": {"value": 1}, "opacity": {"value": 1}, "stroke": {"value": "#333333"}, "strokeWidth": {"value": 1}}}}}},
  "stroke": {"field": "g", "type": "nominal", "scale": {"domain": ["No", "Yes"], "range": ["#5fd3dc", "#7880bb"]}, "legend": null}
 }},
{"title": {"text": ["Are you afraid of the first", "competition after this break?"], "offset": 23},
 "width": 367, "height": 246, "transform": [{"filter": "datum.q == 10"}],
 "mark": {"type": "area", "interpolate": "monotone", "fillOpacity": 0.22, "strokeWidth": 1.5, "strokeOpacity": 0.8},
 "encoding": {
  "x": {"field": "x", "type": "quantitative", "scale": {"domain": [-6.08, 25.22], "nice": false, "zero": false}, "axis": {"values": [-5, 0, 5, 10, 15, 20, 25], "labelExpr": "'' + datum.value", "title": "Depressiveness (PHQ-8)"}},
  "y": {"field": "d", "type": "quantitative", "stack": null, "scale": {"domain": [-0.004, 0.1153], "nice": false, "zero": false}, "axis": {"values": [0, 0.02, 0.04, 0.06, 0.08, 0.1], "labelExpr": "abs(datum.value*25 - round(datum.value*25)) < 0.01 ? format(datum.value, '.2f') : ''", "title": "Density"}},
  "y2": {"datum": 0},
  "fill": {"field": "g", "type": "nominal", "scale": {"domain": ["No", "Yes"], "range": ["#00e5e5", "#3f63c8"]}, "legend": {"title": null, "encode": {"symbols": {"update": {"fillOpacity": {"value": 1}, "opacity": {"value": 1}, "stroke": {"value": "#333333"}, "strokeWidth": {"value": 1}}}}}},
  "stroke": {"field": "g", "type": "nominal", "scale": {"domain": ["No", "Yes"], "range": ["#5fd3dc", "#7880bb"]}, "legend": null}
 }},
{"title": {"text": ["Have you been afraid that you could lose", "your income due to the COVID-19 crisis?"], "offset": 18.5},
 "width": 367, "height": 246, "transform": [{"filter": "datum.q == 11"}],
 "mark": {"type": "area", "interpolate": "monotone", "fillOpacity": 0.22, "strokeWidth": 1.5, "strokeOpacity": 0.8},
 "encoding": {
  "x": {"field": "x", "type": "quantitative", "scale": {"domain": [-6.3, 25.05], "nice": false, "zero": false}, "axis": {"values": [-5, 0, 5, 10, 15, 20, 25], "labelExpr": "'' + datum.value", "title": "Depressiveness (PHQ-8)"}},
  "y": {"field": "d", "type": "quantitative", "stack": null, "scale": {"domain": [-0.0045, 0.126], "nice": false, "zero": false}, "axis": {"values": [0, 0.02, 0.04, 0.06, 0.08, 0.1, 0.12], "labelExpr": "abs(datum.value*25 - round(datum.value*25)) < 0.01 ? format(datum.value, '.2f') : ''", "title": "Density"}},
  "y2": {"datum": 0},
  "fill": {"field": "g", "type": "nominal", "scale": {"domain": ["No", "Yes"], "range": ["#00e5e5", "#3f63c8"]}, "legend": {"title": null, "encode": {"symbols": {"update": {"fillOpacity": {"value": 1}, "opacity": {"value": 1}, "stroke": {"value": "#333333"}, "strokeWidth": {"value": 1}}}}}},
  "stroke": {"field": "g", "type": "nominal", "scale": {"domain": ["No", "Yes"], "range": ["#5fd3dc", "#7880bb"]}, "legend": null}
 }},
{"title": {"text": ["Have you been worried about life", "after your sports career?"], "offset": 22.5},
 "width": 367, "height": 246, "transform": [{"filter": "datum.q == 12"}],
 "mark": {"type": "area", "interpolate": "monotone", "fillOpacity": 0.22, "strokeWidth": 1.5, "strokeOpacity": 0.8},
 "encoding": {
  "x": {"field": "x", "type": "quantitative", "scale": {"domain": [-6.12, 24.64], "nice": false, "zero": false}, "axis": {"values": [-5, 0, 5, 10, 15, 20], "labelExpr": "'' + datum.value", "title": "Depressiveness (PHQ-8)"}},
  "y": {"field": "d", "type": "quantitative", "stack": null, "scale": {"domain": [-0.0043, 0.1178], "nice": false, "zero": false}, "axis": {"values": [0, 0.02, 0.04, 0.06, 0.08, 0.1], "labelExpr": "abs(datum.value*25 - round(datum.value*25)) < 0.01 ? format(datum.value, '.2f') : ''", "title": "Density"}},
  "y2": {"datum": 0},
  "fill": {"field": "g", "type": "nominal", "scale": {"domain": ["No", "Yes"], "range": ["#00e5e5", "#3f63c8"]}, "legend": {"title": null, "encode": {"symbols": {"update": {"fillOpacity": {"value": 1}, "opacity": {"value": 1}, "stroke": {"value": "#333333"}, "strokeWidth": {"value": 1}}}}}},
  "stroke": {"field": "g", "type": "nominal", "scale": {"domain": ["No", "Yes"], "range": ["#5fd3dc", "#7880bb"]}, "legend": null}
 }}
],
"config": {
 "font": "Liberation Sans",
 "view": {"stroke": "#3a3a3a", "strokeWidth": 1.6, "fill": "white"},
 "axis": {"grid": false, "domain": false, "tickColor": "#333333", "tickSize": 10, "tickWidth": 1.3, "labelFont": "Liberation Sans", "labelFontSize": 16.5, "labelColor": "#2a2a2a", "titleFont": "Liberation Sans", "titleFontSize": 17.5, "titleFontWeight": "normal", "titleColor": "#2a2a2a", "labelOverlap": false},
 "axisX": {"labelPadding": 12, "titlePadding": 5, "labelFlush": false},
 "axisY": {"labelAngle": 270, "labelAlign": "center", "labelBaseline": "bottom", "labelPadding": 11, "titlePadding": 20},
 "title": {"font": "Liberation Sans", "fontSize": 21, "fontWeight": "bold", "color": "#111111", "anchor": "middle", "lineHeight": 25, "frame": "group"},
 "legend": {"orient": "top-right", "direction": "horizontal", "offset": 6, "padding": 12, "strokeColor": "#444444", "fillColor": "white", "symbolType": "square", "symbolSize": 80, "symbolStrokeColor": "#333333", "symbolStrokeWidth": 1, "labelFontSize": 10, "labelColor": "#333333", "labelOffset": 12, "columnPadding": 26}
}
}
